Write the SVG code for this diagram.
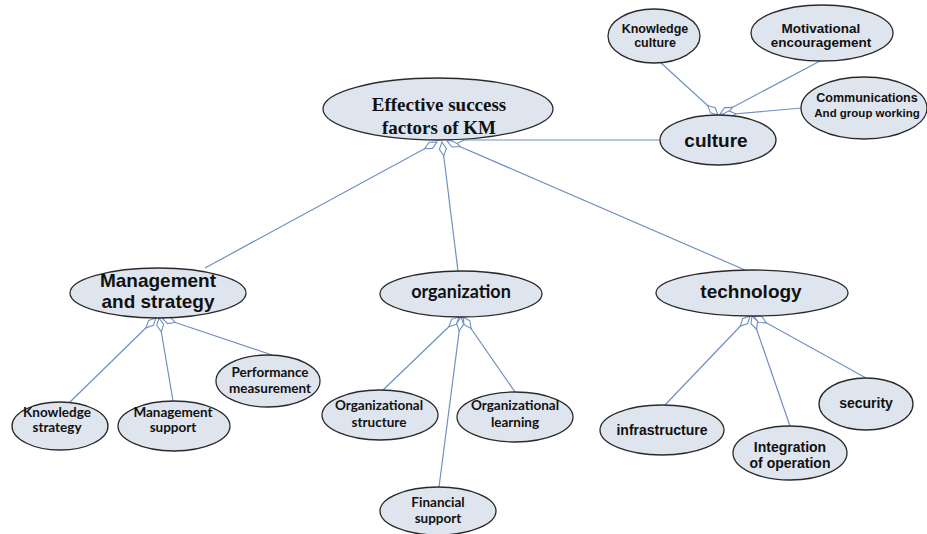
<svg xmlns="http://www.w3.org/2000/svg" width="927" height="534" viewBox="0 0 927 534">
<style>
.n ellipse{fill:#dfe5ef;stroke:#2a2a2a;stroke-width:1.3}
.c line{stroke:#6f8fc3;stroke-width:1.2;marker-start:url(#dia)}
text{text-anchor:middle;fill:#111;font-weight:bold}
.ser{font-family:"Liberation Serif","Times New Roman",serif;font-size:19px}
.ar{font-family:"Liberation Sans",Arial,sans-serif}
.ca{font-family:Lato,"Liberation Sans",sans-serif;font-size:13.5px}
</style>
<defs>
<marker id="dia" viewBox="-1 -5 17 10" refX="0" refY="0" markerWidth="17" markerHeight="10" markerUnits="userSpaceOnUse" orient="auto">
<path d="M0,0 L7,-3.5 L14,0 L7,3.5 Z" fill="#fff" stroke="#6f8fc3" stroke-width="1.1"/>
</marker>
</defs>
<rect width="927" height="534" fill="#fff"/>
<g id="connectors" class="c">
<line x1="437" y1="142" x2="205" y2="268"/>
<line x1="442" y1="142" x2="458" y2="271"/>
<line x1="447" y1="141" x2="745" y2="270"/>
<line x1="450" y1="140" x2="660" y2="140"/>
<line x1="718" y1="115" x2="660" y2="62"/>
<line x1="720" y1="114" x2="820" y2="61"/>
<line x1="722" y1="115" x2="802" y2="108"/>
<line x1="156" y1="318" x2="70" y2="402"/>
<line x1="159" y1="318" x2="173" y2="401"/>
<line x1="162" y1="318" x2="272" y2="355"/>
<line x1="459" y1="317" x2="382" y2="391"/>
<line x1="461" y1="317" x2="439" y2="487"/>
<line x1="463" y1="317" x2="515" y2="392"/>
<line x1="750" y1="316" x2="665" y2="405"/>
<line x1="752" y1="316" x2="790" y2="426"/>
<line x1="754" y1="316" x2="866" y2="378"/>
</g>
<g id="main" class="n"><ellipse cx="438" cy="109" rx="115" ry="31"/><text class="ser" x="439" y="111">Effective success</text><text class="ser" x="439" y="134">factors of KM</text></g>
<g id="culture" class="n"><ellipse cx="718" cy="140" rx="58" ry="25"/><text class="ar" x="716" y="147" font-size="19">culture</text></g>
<g id="knowledge-culture" class="n"><ellipse cx="654" cy="36" rx="46" ry="27"/><text class="ar" x="655" y="33" font-size="12.5">Knowledge</text><text class="ar" x="655" y="47" font-size="12.5">culture</text></g>
<g id="motivational" class="n"><ellipse cx="822" cy="33" rx="71" ry="28"/><text class="ar" x="821" y="33" font-size="13.5">Motivational</text><text class="ar" x="821" y="47" font-size="13.5">encouragement</text></g>
<g id="communications" class="n"><ellipse cx="864" cy="108" rx="63" ry="31"/><text class="ar" x="867" y="102" font-size="12.5">Communications</text><text class="ar" x="867" y="117" font-size="11.5">And group working</text></g>
<g id="management" class="n"><ellipse cx="158" cy="293" rx="88" ry="25"/><text class="ar" x="158" y="287" font-size="19">Management</text><text class="ar" x="158" y="308" font-size="19">and strategy</text></g>
<g id="organization" class="n"><ellipse cx="461" cy="294" rx="81" ry="23"/><text class="ca" x="461" y="298" style="font-size:18px">organization</text></g>
<g id="technology" class="n"><ellipse cx="752" cy="293" rx="96" ry="23"/><text class="ar" x="751" y="298" font-size="19">technology</text></g>
<g id="knowledge-strategy" class="n"><ellipse cx="60" cy="426" rx="48" ry="24"/><text class="ca" x="57" y="417">Knowledge</text><text class="ca" x="57" y="432">strategy</text></g>
<g id="management-support" class="n"><ellipse cx="174" cy="426" rx="56" ry="25"/><text class="ca" x="173" y="417">Management</text><text class="ca" x="173" y="432">support</text></g>
<g id="performance" class="n"><ellipse cx="268" cy="381" rx="52" ry="26"/><text class="ca" x="270" y="377">Performance</text><text class="ca" x="270" y="393">measurement</text></g>
<g id="org-structure" class="n"><ellipse cx="380" cy="415" rx="58" ry="25"/><text class="ca" x="379" y="410">Organizational</text><text class="ca" x="379" y="427">structure</text></g>
<g id="org-learning" class="n"><ellipse cx="515" cy="417" rx="58" ry="25"/><text class="ca" x="515" y="410">Organizational</text><text class="ca" x="515" y="427">learning</text></g>
<g id="financial" class="n"><ellipse cx="438" cy="511" rx="58" ry="24"/><text class="ca" x="438" y="507">Financial</text><text class="ca" x="438" y="523">support</text></g>
<g id="infrastructure" class="n"><ellipse cx="662" cy="430" rx="62" ry="25"/><text class="ar" x="662" y="435" font-size="14">infrastructure</text></g>
<g id="integration" class="n"><ellipse cx="790" cy="453" rx="57" ry="27"/><text class="ar" x="790" y="452" font-size="14">Integration</text><text class="ar" x="790" y="468" font-size="14">of operation</text></g>
<g id="security" class="n"><ellipse cx="866" cy="404" rx="47" ry="26"/><text class="ar" x="866" y="408" font-size="14">security</text></g>
</svg>
